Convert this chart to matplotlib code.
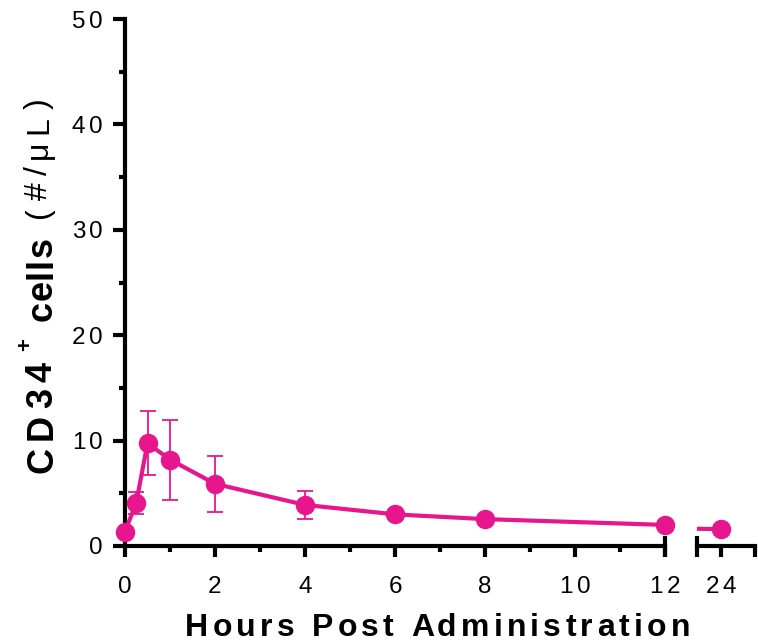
import matplotlib
matplotlib.use("Agg")
import matplotlib.pyplot as plt
from matplotlib.font_manager import FontProperties

plt.rcParams["font.family"] = ["Liberation Sans", "DejaVu Sans"]

hours = [0, 0.25, 0.5, 1, 2, 4, 6, 8, 12, 24]
cd34 = [1.35, 4.1, 9.75, 8.2, 5.9, 3.9, 3.0, 2.55, 2.0, 1.6]
cd34_sem = [0, 1.05, 3.05, 3.8, 2.65, 1.3, 0, 0, 0, 0]

y_ticks = [0, 10, 20, 30, 40, 50]
x_ticks_early = [0, 2, 4, 6, 8, 10, 12]
x_ticks_late = [24]

COLOR = "#E8168C"
AXW = 3.0
W, H = 758, 642

fig = plt.figure(figsize=(W / 100, H / 100), dpi=100)
renderer = fig.canvas.get_renderer()

_width_cache = {}


def _width(s, fp):
    key = (s, fp.get_size_in_points(), fp.get_weight())
    if key not in _width_cache:
        t = fig.text(0, 0, s, fontproperties=fp)
        _width_cache[key] = t.get_window_extent(renderer).width
        t.remove()
    return _width_cache[key]


def _advance(s, fp):
    # advance of s, measured against a bar so trailing blanks count
    return _width(s + "|", fp) - _width("|", fp)


def tracked(text, fp, pos, along, track=None, length=None, anchor="center",
            vertical=False):
    """Draw letter-spaced text char by char.

    Coordinates are pixels from the top-left corner; `pos` is the baseline
    across the text direction, `along` the anchor along it.  Vertical text
    reads bottom to top.
    """
    offs = [_advance(text[:i], fp) for i in range(len(text))]
    natural = _advance(text, fp)
    n = len(text)
    if track is None:
        track = (length - natural) / max(n - 1, 1)
    total = natural + track * (n - 1)
    a = H - along if vertical else along
    start = {"start": a, "center": a - total / 2, "end": a - total}[anchor]
    for k, ch in enumerate(text):
        if ch == " ":
            continue
        d = start + offs[k] + k * track
        if vertical:
            x, y, rot = pos, d, 90
        else:
            x, y, rot = d, H - pos, 0
        fig.text(x / W, y / H, ch, fontproperties=fp, ha="left",
                 va="baseline", rotation=rot, rotation_mode="anchor")


ax1 = fig.add_axes([125 / W, 1 - 546 / H, 540 / W, 527 / H])
ax2 = fig.add_axes([697 / W, 1 - 546 / H, 58 / W, 527 / H], sharey=ax1)

for ax, lo, hi in [(ax1, 0, 12), (ax2, 23.0, 25.42)]:
    # line is clipped to the segment, markers/error bars are not
    ax.plot(hours, cd34, color=COLOR, lw=3, zorder=3)
    sel = [i for i, h in enumerate(hours) if lo <= h <= hi]
    ax.plot([hours[i] for i in sel], [cd34[i] for i in sel], "o",
            color=COLOR, ms=13, clip_on=False, zorder=4)
    bars = [i for i in sel if cd34_sem[i] > 0]
    if bars:
        ax.errorbar([hours[i] for i in bars], [cd34[i] for i in bars],
                    yerr=[cd34_sem[i] for i in bars], fmt="none",
                    ecolor=COLOR, elinewidth=1.3, capsize=6, capthick=1.3,
                    clip_on=False, zorder=4)
    ax.set_xlim(lo, hi)
    ax.set_ylim(0, 50)
    for side in ("top", "right"):
        ax.spines[side].set_visible(False)
    ax.spines["bottom"].set_linewidth(AXW)
    ax.spines["left"].set_linewidth(AXW)
    ax.tick_params(axis="x", which="major", width=AXW, length=8,
                   labelbottom=False)
    ax.tick_params(axis="y", which="major", width=AXW, length=8.5,
                   labelleft=False)
    ax.tick_params(axis="both", which="minor", width=AXW, length=4)

ax1.set_xticks(x_ticks_early)
ax1.set_xticks(range(1, 12, 2), minor=True)
ax1.set_yticks(y_ticks)
ax1.set_yticks(range(5, 50, 10), minor=True)

ax2.spines["left"].set_visible(False)
ax2.tick_params(axis="y", which="both", left=False)
ax2.set_xticks(x_ticks_late)
ax2.set_xticks([25.42], minor=True)
ax2.tick_params(axis="x", which="minor", length=8)

# break marks at both sides of the gap
for ax, xa in [(ax1, 1), (ax2, 0)]:
    ax.plot([xa, xa], [-0.021, 0.019], transform=ax.transAxes, color="black",
            lw=AXW, clip_on=False, solid_capstyle="butt")

# tick labels, letter-spaced
tick_fp = FontProperties(family="Liberation Sans", size=17.5)
fig.canvas.draw()
for v in y_ticks:
    py = H - ax1.transData.transform((0, v))[1]
    tracked(str(v), tick_fp, py + 8.5, 103, track=4, anchor="end")
for ax, ticks in [(ax1, x_ticks_early), (ax2, x_ticks_late)]:
    for v in ticks:
        px = ax.transData.transform((v, 0))[0]
        tracked(str(v), tick_fp, 593, px, track=4)

# y title: bold "CD34+ cells", regular unit
ybold = FontProperties(family="Liberation Sans", size=26, weight="bold")
ysup = FontProperties(family="Liberation Sans", size=16, weight="bold")
yreg = FontProperties(family="Liberation Sans", size=23)
tracked("CD34", ybold, 52, 473, track=6.5, anchor="start", vertical=True)
tracked("+", ysup, 31, 351, track=0, anchor="start", vertical=True)
tracked("cells", ybold, 52, 321, length=84, anchor="start", vertical=True)
tracked("(#/μL)", yreg, 47, 218, length=120, anchor="start", vertical=True)

xbold = FontProperties(family="Liberation Sans", size=23, weight="bold")
tracked("Hours Post Administration", xbold, 636, 437.5, length=505)

fig.savefig("out.png", dpi=100)
